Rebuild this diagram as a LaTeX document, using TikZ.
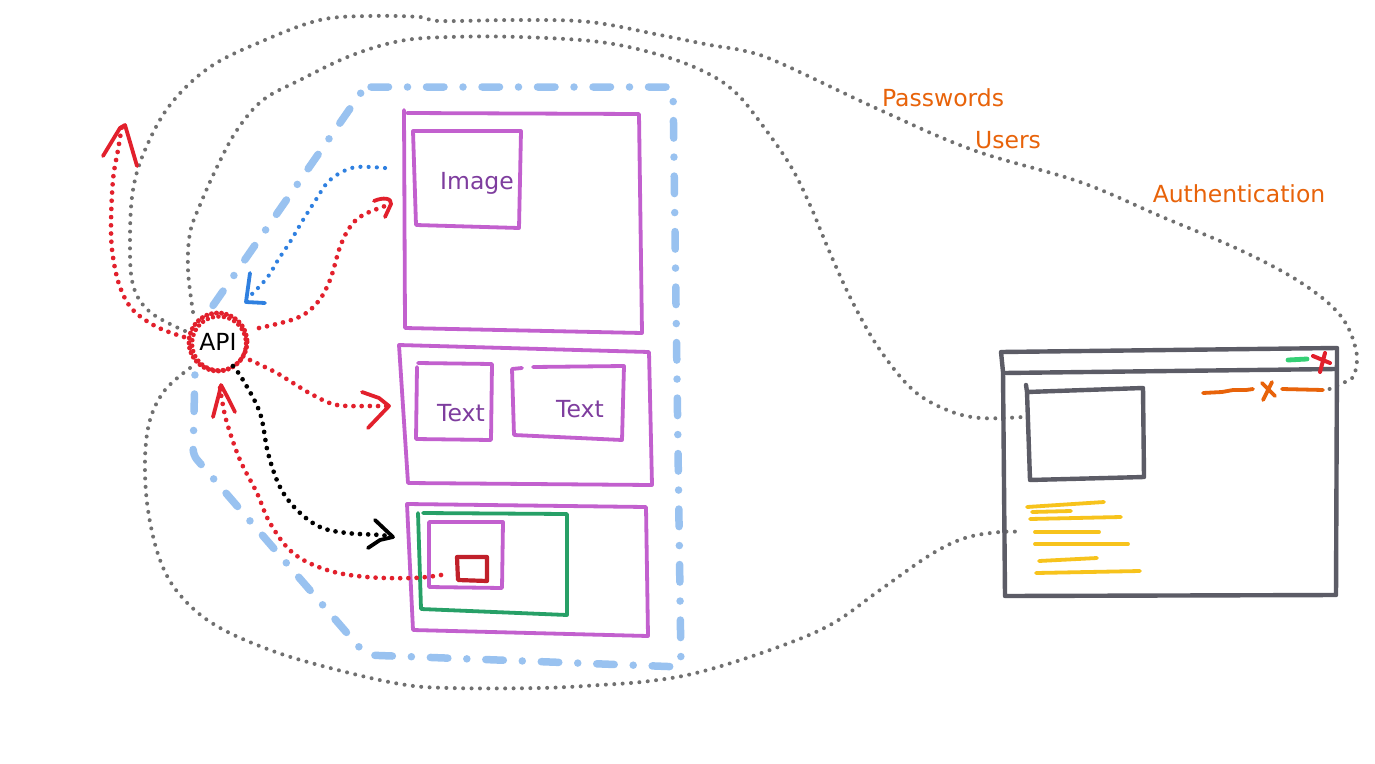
\documentclass[tikz,border=0pt]{standalone}
\usepackage{fontspec}
\setmainfont{DejaVu Sans}
\definecolor{gdotc}{HTML}{707070}
\definecolor{lblue}{HTML}{99C2F0}
\definecolor{purp}{HTML}{C260CE}
\definecolor{purptext}{HTML}{7E3D9E}
\definecolor{grn}{HTML}{27A067}
\definecolor{dred}{HTML}{C0202A}
\definecolor{redc}{HTML}{E2202C}
\definecolor{bluec}{HTML}{2F80E0}
\definecolor{orng}{HTML}{E8630A}
\definecolor{wgray}{HTML}{5C5C66}
\definecolor{yel}{HTML}{F7C31C}
\definecolor{lgrn}{HTML}{35D075}
\begin{document}
\begin{tikzpicture}[x=1pt,y=-1pt,line join=round,line cap=round,
  lbl/.style={font=\fontsize{23.5}{28}\selectfont},
  gdot/.style={draw=gdotc,line width=4pt,dash pattern=on 0pt off 8.4pt,line cap=round},
  rdot/.style={draw=redc,line width=4.7pt,dash pattern=on 0pt off 8.2pt,line cap=round},
  bdot/.style={draw=bluec,line width=4.2pt,dash pattern=on 0pt off 8.2pt,line cap=round},
  kdot/.style={draw=black,line width=4.7pt,dash pattern=on 0pt off 8.2pt,line cap=round},
  rhead/.style={draw=redc,line width=3.8pt},
  pbox/.style={draw=purp,line width=3.8pt},
  wbox/.style={draw=wgray,line width=4.4pt},
  yline/.style={draw=yel,line width=3.8pt},
  bluedd/.style={draw=lblue,line width=7.5pt,line cap=round,rounded corners=6pt,dash pattern=on 17.5pt off 19pt on 0pt off 19pt}]
\useasboundingbox (0,0) rectangle (1375,763);
\fill[white] (0,0) rectangle (1375,763);

% blue dash-dot frame
\draw[bluedd] (365,87) -- (673,87) -- (681,667) -- (366,655) -- (193,455) -- (196,330) -- cycle;

% purple boxes
\draw[pbox] (404,110) -- (405,328) -- (642,333) -- (639,114) -- (407,113);
\draw[pbox] (413,131) -- (521,131) -- (519,228) -- (416,225) -- cycle;
\node[lbl,text=purptext] (img) at (477,183) {Image};
\draw[pbox] (399,345) -- (649,352) -- (652,485) -- (408,483) -- cycle;
\draw[pbox] (418,363) -- (492,364) -- (491,440) -- (416,439) -- (417,367);
\node[lbl,text=purptext] (t1) at (461,413) {Text};
\draw[pbox] (522,368) -- (512,369) -- (514,435) -- (622,440) -- (624,366) -- (533,367);
\node[lbl,text=purptext] (t2) at (580,409) {Text};
\draw[pbox] (407,504) -- (646,507) -- (648,636) -- (413,630) -- cycle;
\draw[draw=grn,line width=3.8pt] (418,513) -- (421,609) -- (567,615) -- (567,514) -- (423,513);
\draw[pbox] (429,522) -- (503,522) -- (502,588) -- (429,587) -- cycle;
\draw[draw=dred,line width=4.2pt] (457,557) -- (487,557) -- (487,581) -- (458,580) -- cycle;
\coordinate (sq) at (441,575);

% API node
\node[lbl,circle,fill=white,minimum size=58pt,inner sep=0pt] (api) at (218,342) {API};

% gray dotted curves
\coordinate (gA) at (185,331);
\coordinate (gAend) at (1327,390);
\draw[gdot] plot[smooth,tension=0.6] coordinates {(gA) (150,312) (133,285) (130,240) (133,190) (145,150) (170,105) (210,67) (265,40) (320,20) (370,16) (420,17) (440,21) (520,20) (590,22) (660,35) (710,45) (745,51) (780,63) (880,110) (973,150) (1080,182) (1160,216) (1240,250) (1300,282) (1340,315) (1356,350) (1354,375) (1343,383) (gAend)};
\coordinate (gB) at (193,312);
\coordinate (gBend) at (1023,417);
\draw[gdot] plot[smooth,tension=0.6] coordinates {(gB) (188,270) (190,233) (200,205) (217,167) (237,130) (263,100) (300,80) (350,56) (400,41) (450,37) (520,37) (600,42) (660,55) (705,72) (735,92) (760,122) (790,165) (810,205) (830,253) (853,303) (880,350) (913,390) (947,410) (980,418) (gBend)};
\coordinate (gC) at (190,368);
\coordinate (gCend) at (1023,532);
\draw[gdot] plot[smooth,tension=0.6] coordinates {(gC) (165,390) (150,420) (145,460) (148,510) (160,560) (180,595) (215,625) (270,650) (330,668) (400,684) (450,688) (540,688) (600,685) (650,681) (700,672) (770,650) (830,625) (880,590) (930,555) (965,538) (1000,532) (gCend)};

% API circle outline (red dotted, sketchy double)
\draw[redc,line width=5pt,dash pattern=on 0pt off 5pt] (api.center) circle[radius=29];
\draw[redc,line width=4.5pt,dash pattern=on 0pt off 5.5pt] ([shift={(1,1.5)}]api.center) circle[radius=27];

% red arrow 1: API -> up-left
\coordinate (r1s) at (184,337);
\coordinate (r1t) at (122,126);
\draw[rdot] plot[smooth,tension=0.6] coordinates {(r1s) (157,327) (133,310) (120,287) (113,257) (111,227) (113,180) (118,150) (r1t)};
\draw[rhead] (103,156) -- (120,128) -- (125,125) -- (130,142) -- (137,166);

% red arrow 2: API -> Image
\coordinate (r2s) at (259,328);
\coordinate (r2t) at (388,205);
\draw[rdot] plot[smooth,tension=0.6] coordinates {(r2s) (297,318) (317,303) (330,280) (340,247) (350,227) (363,215) (r2t)};
\draw[rhead] (374,201) .. controls (383,197) and (392,198) .. (391,204) -- (385,217);

% red arrow 3: API -> Text
\coordinate (r3s) at (250,360);
\coordinate (r3t) at (389,406);
\draw[rdot] plot[smooth,tension=0.6] coordinates {(r3s) (275,372) (293,383) (313,395) (337,405) (373,406) (r3t)};
\draw[rhead] (362,392) -- (379,398) -- (389,406) -- (368,428);

% red arrow 4: square -> API
\coordinate (r4t) at (220,387);
\draw[rdot] plot[smooth,tension=0.6] coordinates {(sq) (413,578) (367,577) (327,570) (293,553) (270,523) (257,493) (240,460) (227,423) (222,400) (r4t)};
\draw[rhead] (213,417) -- (219,394) -- (221,385) -- (228,398) -- (235,412);

% black arrow: API -> bottom box
\coordinate (ks) at (233,366);
\coordinate (kt) at (392,537);
\draw[kdot] plot[smooth,tension=0.6] coordinates {(ks) (243,380) (260,413) (268,453) (280,487) (297,510) (320,527) (347,533) (380,535) (kt)};
\draw[draw=black,line width=3.8pt] (375,520) -- (393,537) -- (380,540) -- (368,548);

% blue arrow: Image -> API
\coordinate (bs) at (385,168);
\coordinate (bt) at (250,296);
\draw[bdot] plot[smooth,tension=0.6] coordinates {(bs) (357,167) (340,173) (327,183) (317,198) (303,220) (290,242) (278,260) (267,278) (bt)};
\draw[draw=bluec,line width=3.8pt] (250,273) -- (246,302) -- (265,303);

% browser window
\draw[wbox] (1001,352) -- (1337,348) -- (1336,595) -- (1005,596) -- (1003,372) -- cycle;
\draw[wbox] (1004,373) -- (1336,369);
\draw[wbox] (1026,385) -- (1027,392) -- (1143,388) -- (1144,477) -- (1030,480) -- (1027,392);
\draw[draw=lgrn,line width=4.8pt] (1288,360) -- (1307,359);
\draw[draw=redc,line width=4pt] (1313,356) -- (1330,363) (1325,353) -- (1320,372);
\draw[draw=orng,line width=3.8pt] (1203,393) -- (1222,392) -- (1233,390) -- (1246,390) -- (1253,389);
\draw[draw=orng,line width=3.8pt] (1262,383) -- (1275,396) (1272,382) -- (1263,400);
\draw[draw=orng,line width=3.8pt] (1282,389) -- (1323,390);
\draw[yline] (1027,507) -- (1104,502);
\draw[yline] (1032,512) -- (1071,511);
\draw[yline] (1030,519) -- (1121,517);
\draw[yline] (1035,532) -- (1099,532);
\draw[yline] (1035,544) -- (1128,544);
\draw[yline] (1039,561) -- (1097,558);
\draw[yline] (1036,573) -- (1140,571);

% labels
\node[lbl,text=orng] (pw) at (943,98) {Passwords};
\node[lbl,text=orng] (us) at (1008,140) {Users};
\node[lbl,text=orng] (au) at (1239,194) {Authentication};
\end{tikzpicture}
\end{document}
